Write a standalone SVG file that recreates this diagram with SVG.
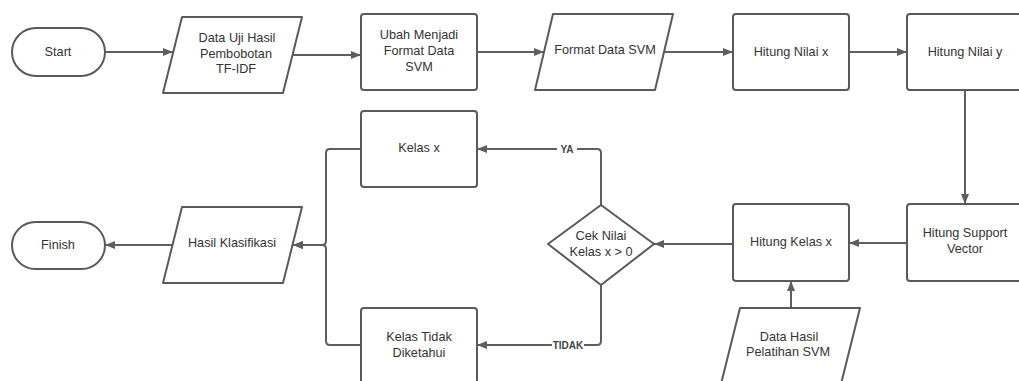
<svg xmlns="http://www.w3.org/2000/svg" width="1019" height="381" viewBox="0 0 1019 381">
  <style>
    .shape { fill: #ffffff; stroke: #5a5a5a; stroke-width: 2; stroke-linejoin: round; }
    .lbl { font-family: "Liberation Sans", Arial, sans-serif; font-size: 12.7px; fill: #333333; text-anchor: middle; dominant-baseline: central; }
    .edge { fill: none; stroke: #5e5e5e; stroke-width: 2; marker-end: url(#arrow); }
    .tag { font-family: "Liberation Sans", Arial, sans-serif; font-size: 10px; font-weight: bold; fill: #444444; text-anchor: middle; dominant-baseline: central; }
  </style>
  <defs>
    <marker id="arrow" markerUnits="userSpaceOnUse" markerWidth="11" markerHeight="8" refX="10" refY="4" orient="auto">
      <path d="M0,0 L10,4 L0,8 z" fill="#5e5e5e"/>
    </marker>
  </defs>
  <rect width="1019" height="381" fill="#ffffff"/>

  <!-- connectors -->
  <g id="connectors">
    <path class="edge" d="M105,52 H173"/>
    <path class="edge" d="M293,55 H361"/>
    <path class="edge" d="M477,52 H544"/>
    <path class="edge" d="M664,52 H733"/>
    <path class="edge" d="M849,52 H907"/>
    <path class="edge" d="M965,90 V204"/>
    <path class="edge" d="M907,243 H849"/>
    <path class="edge" d="M791,308 V281"/>
    <path class="edge" d="M733,244 H654"/>
    <path class="edge" d="M601,205 V153 Q601,149 597,149 H477"/>
    <path class="edge" d="M601,285 V341 Q601,345 597,345 H477"/>
    <path class="edge" d="M361,149 H330 Q326,149 326,153 V241 Q326,245 322,245 H293"/>
    <path class="edge" d="M361,345 H330 Q326,345 326,341 V249 Q326,245 322,245 H293"/>
    <path class="edge" d="M173,245 H105"/>
    <rect x="557" y="143" width="20" height="12" fill="#ffffff"/>
    <text class="tag" x="567" y="149">YA</text>
    <rect x="552" y="339" width="32" height="12" fill="#ffffff"/>
    <text class="tag" x="568" y="345">TIDAK</text>
  </g>

  <g id="start">
    <rect class="shape" x="12" y="28" width="93" height="48" rx="24"/>
    <text class="lbl" x="58" y="52">Start</text>
  </g>

  <g id="data-uji">
    <path class="shape" d="M182,17 H302 L283,93 H163 Z"/>
    <text class="lbl" x="237" y="38">Data Uji Hasil</text>
    <text class="lbl" x="236" y="53.5">Pembobotan</text>
    <text class="lbl" x="236" y="69">TF-IDF</text>
  </g>

  <g id="ubah-format">
    <rect class="shape" x="361" y="14" width="116" height="76" rx="3"/>
    <text class="lbl" x="419" y="34.5">Ubah Menjadi</text>
    <text class="lbl" x="419" y="50.5">Format Data</text>
    <text class="lbl" x="419" y="66.5">SVM</text>
  </g>

  <g id="format-data">
    <path class="shape" d="M553,14 H673 L655,90 H535 Z"/>
    <text class="lbl" x="605" y="50">Format Data SVM</text>
  </g>

  <g id="hitung-x">
    <rect class="shape" x="733" y="14" width="116" height="76" rx="3"/>
    <text class="lbl" x="791" y="52">Hitung Nilai x</text>
  </g>

  <g id="hitung-y">
    <rect class="shape" x="907" y="14" width="116" height="76" rx="3"/>
    <text class="lbl" x="965" y="52">Hitung Nilai y</text>
  </g>

  <g id="support-vector">
    <rect class="shape" x="907" y="204" width="116" height="77" rx="3"/>
    <text class="lbl" x="965" y="233">Hitung Support</text>
    <text class="lbl" x="965" y="248.5">Vector</text>
  </g>

  <g id="hitung-kelas">
    <rect class="shape" x="733" y="204" width="116" height="77" rx="3"/>
    <text class="lbl" x="791" y="242">Hitung Kelas x</text>
  </g>

  <g id="data-pelatihan">
    <path class="shape" d="M740,308 H860 L841,384 H721 Z"/>
    <text class="lbl" x="789" y="337">Data Hasil</text>
    <text class="lbl" x="788" y="352">Pelatihan SVM</text>
  </g>

  <g id="cek-nilai">
    <path class="shape" d="M601,205 L654,244 L601,285 L548,244 Z"/>
    <text class="lbl" x="601" y="236">Cek Nilai</text>
    <text class="lbl" x="601" y="251.5">Kelas x &gt; 0</text>
  </g>

  <g id="kelas-x">
    <rect class="shape" x="361" y="111" width="116" height="76" rx="3"/>
    <text class="lbl" x="419" y="147.5">Kelas x</text>
  </g>

  <g id="kelas-tidak">
    <rect class="shape" x="361" y="308" width="116" height="77" rx="3"/>
    <text class="lbl" x="419" y="337">Kelas Tidak</text>
    <text class="lbl" x="419" y="352.5">Diketahui</text>
  </g>

  <g id="hasil-klasifikasi">
    <path class="shape" d="M182,207 H302 L283,283 H163 Z"/>
    <text class="lbl" x="232" y="243">Hasil Klasifikasi</text>
  </g>

  <g id="finish">
    <rect class="shape" x="12" y="222" width="93" height="47" rx="23.5"/>
    <text class="lbl" x="58" y="244.5">Finish</text>
  </g>
</svg>
